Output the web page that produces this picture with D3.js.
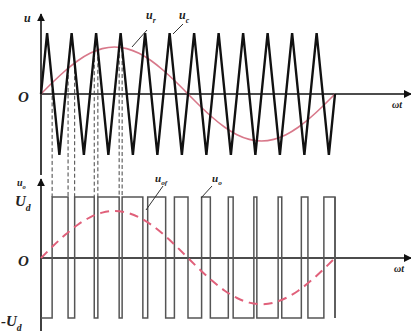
<!DOCTYPE html>
<html>
<head>
<meta charset="utf-8">
<script src="https://cdn.jsdelivr.net/npm/d3@7"></script>
<style>
  html, body { margin: 0; padding: 0; background: #fff; }
  svg { display: block; }
  text { font-family: "Liberation Serif", "DejaVu Serif", serif; font-style: italic; font-weight: bold; fill: #222; }
</style>
</head>
<body>
<svg id="chart" width="411" height="331"></svg>
<script>
// carrier u_c (triangle) vertices, time in carrier periods
const carrierT = [0, 0.25, 0.75, 1.25, 1.75, 2.25, 2.75, 3.25, 3.75, 4.25, 4.75, 5.25, 5.75,
  6.25, 6.75, 7.25, 7.75, 8.25, 8.75, 9.25, 9.75, 10.25, 10.75, 11.25, 11.75, 12];
const carrierV = [0, 1, -1, 1, -1, 1, -1, 1, -1, 1, -1, 1, -1,
  1, -1, 1, -1, 1, -1, 1, -1, 1, -1, 1, -1, 0];

// reference u_r, read every half carrier period (15 deg)
const refT = [0, 0.5, 1, 1.5, 2, 2.5, 3, 3.5, 4, 4.5, 5, 5.5, 6,
  6.5, 7, 7.5, 8, 8.5, 9, 9.5, 10, 10.5, 11, 11.5, 12];
const refV = [0, 0.20, 0.385, 0.545, 0.667, 0.744, 0.77, 0.744, 0.667, 0.545, 0.385, 0.20, 0,
  -0.20, -0.385, -0.545, -0.667, -0.744, -0.77, -0.744, -0.667, -0.545, -0.385, -0.20, 0];

// output levels
const levels = [-1, 0, 1];
const levelLabels = ["-U", "O", "U"];

// which pulse edges get a dashed projection line
const projectedEdges = [1, 2, 3, 4, 5, 6, 7];

const svg = d3.select('#chart');

const x = d3.scaleLinear().domain([0, 12]).range([41, 335]);
const yTop = d3.scaleLinear().domain([-1, 1]).range([155, 33]);
const yBot = d3.scaleLinear().domain(levels).range([318, 258, 197]);

const carrierAt = d3.scaleLinear().domain(carrierT).range(carrierV);
const refAt = d3.scaleLinear().domain(refT).range(refV);

// find the switching instants (u_r crosses u_c)
const edges = [];
const N = 6000;
let prev = refAt(0.0001) - carrierAt(0.0001);
for (let i = 1; i <= N; i++) {
  const t = 12 * i / N;
  const d = refAt(t) - carrierAt(t);
  if ((d > 0) !== (prev > 0) && t < 11.999) {
    const t0 = 12 * (i - 1) / N;
    edges.push({ t: t0 + (t - t0) * prev / (prev - d), up: d > 0 });
  }
  prev = d;
}

// pulse train points
const pulse = [{ t: 0, v: -1 }];
edges.forEach(e => pulse.push({ t: e.t, v: e.up ? 1 : -1 }));
pulse.push({ t: 12, v: -1 });

// arrow marker
const defs = svg.append('defs');
defs.append('marker').attr('id', 'arr')
  .attr('viewBox', '0 0 10 10').attr('refX', 9).attr('refY', 5)
  .attr('markerWidth', 8).attr('markerHeight', 8).attr('markerUnits', 'userSpaceOnUse')
  .attr('orient', 'auto')
  .append('path').attr('d', 'M0,0 L10,5 L0,10 z').attr('fill', '#111');

// axes
const axes = svg.append('g').attr('stroke', '#111').attr('stroke-width', 1.6);
axes.append('line').attr('x1', 41).attr('x2', 41).attr('y1', 175).attr('y2', 14).attr('marker-end', 'url(#arr)');
axes.append('line').attr('x1', 41).attr('x2', 411).attr('y1', yTop(0)).attr('y2', yTop(0)).attr('marker-end', 'url(#arr)');
axes.append('line').attr('x1', 41).attr('x2', 41).attr('y1', 331).attr('y2', 179).attr('marker-end', 'url(#arr)');
axes.append('line').attr('x1', 41).attr('x2', 411).attr('y1', yBot(0)).attr('y2', yBot(0)).attr('marker-end', 'url(#arr)');

// dashed projection lines
svg.append('g').selectAll('line')
  .data(projectedEdges.map(i => edges[i - 1]))
  .join('line')
  .attr('x1', d => x(d.t)).attr('x2', d => x(d.t))
  .attr('y1', d => yTop(refAt(d.t))).attr('y2', yBot(1))
  .attr('stroke', '#444').attr('stroke-width', 1).attr('stroke-dasharray', '4,2.5');

// reference sine (top)
const refPts = refT.map((t, i) => [t, refV[i]]);
svg.append('path')
  .datum(refPts)
  .attr('d', d3.line().x(d => x(d[0])).y(d => yTop(d[1])).curve(d3.curveNatural))
  .attr('fill', 'none').attr('stroke', '#d8788a').attr('stroke-width', 1.6);

// carrier triangle
svg.append('path')
  .datum(carrierT.map((t, i) => [t, carrierV[i]]))
  .attr('d', d3.line().x(d => x(d[0])).y(d => yTop(d[1])))
  .attr('fill', 'none').attr('stroke', '#111').attr('stroke-width', 2.4)
  .attr('stroke-linejoin', 'miter');

// output pulses
svg.append('path')
  .datum(pulse)
  .attr('d', d3.line().x(d => x(d.t)).y(d => yBot(d.v)).curve(d3.curveStepAfter))
  .attr('fill', 'none').attr('stroke', '#555').attr('stroke-width', 1.5);
svg.append('line')
  .attr('x1', x(12)).attr('x2', x(12)).attr('y1', yBot(1)).attr('y2', yBot(-1))
  .attr('stroke', '#555').attr('stroke-width', 1.5);

// fundamental u_of (bottom, dashed)
svg.append('path')
  .datum(refPts)
  .attr('d', d3.line().x(d => x(d[0])).y(d => yBot(d[1])).curve(d3.curveNatural))
  .attr('fill', 'none').attr('stroke', '#e0607a').attr('stroke-width', 2)
  .attr('stroke-dasharray', '9,6');

// leader lines
const leaders = [[132, 47, 147, 30], [173, 34, 183, 24], [146, 210, 163, 186], [201, 198, 212, 186]];
svg.append('g').selectAll('line').data(leaders).join('line')
  .attr('x1', d => d[0]).attr('y1', d => d[1]).attr('x2', d => d[2]).attr('y2', d => d[3])
  .attr('stroke', '#333').attr('stroke-width', 1);

// labels
function label(px, py, main, sub, size) {
  const t = svg.append('text').attr('x', px).attr('y', py).attr('font-size', size);
  t.append('tspan').text(main);
  if (sub) t.append('tspan').attr('dy', size * 0.3).attr('font-size', size * 0.65).text(sub);
}
label(24, 22, 'u', null, 12);
label(146, 19, 'u', 'r', 12);
label(179, 19, 'u', 'c', 12);
label(18, 102, 'O', null, 15);
label(392, 108, 'ωt', null, 10);

label(17, 186, 'u', 'o', 10);
label(15, 206, levelLabels[2], 'd', 15);
label(18, 266, levelLabels[1], null, 15);
label(1, 326, levelLabels[0], 'd', 15);
label(155, 182, 'u', 'of', 11);
label(212, 182, 'u', 'o', 11);
label(394, 272, 'ωt', null, 10);
</script>
</body>
</html>
